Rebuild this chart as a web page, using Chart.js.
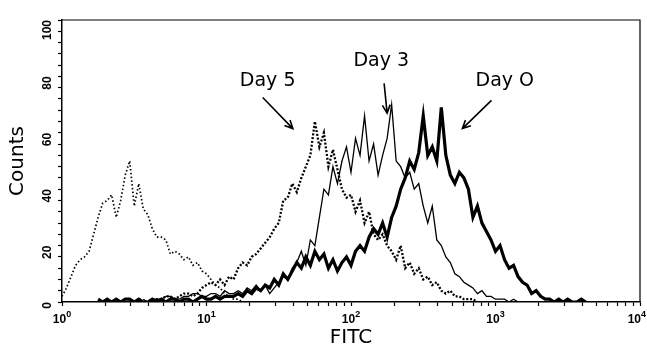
<!DOCTYPE html>
<html>
<head>
<meta charset="utf-8">
<script src="https://cdn.jsdelivr.net/npm/chart.js@4.4.1/dist/chart.umd.min.js"></script>
<style>
  html, body { margin: 0; padding: 0; background: #fff; }
  #wrap { width: 647px; height: 357px; position: relative; }
</style>
</head>
<body>
<div id="wrap"><canvas id="c" width="647" height="357"></canvas></div>
<script>
// Histogram channels: 32 channels per decade on the FITC log scale (1 .. 10^4)
const channelsPerDecade = 32;

// Counts per channel, with the first channel index of each series
const controlStart = 0;
const controlCounts = [2,5,9,13,15,16,18,24,30,35,36,38,30,36,45,50,34,42,33,31,26,23,23,22,17,18,17,15,16,13,14,11,10,8,6,5,3,2,1,1,0];

const day5Start = 20;
const day5Counts = [1,1,1,2,2,1,2,3,3,2,3,5,6,7,6,8,6,9,8,12,14,13,16,17,19,21,23,26,28,36,37,42,39,44,48,52,64,55,60,48,54,47,40,37,38,32,36,28,32,24,22,24,20,18,15,20,12,14,10,12,8,9,6,7,4,3,4,2,2,1,1,1,0];

const day3Start = 18;
const day3Counts = [1,0,1,1,1,2,2,1,1,2,2,3,3,2,2,3,3,2,4,3,3,4,3,5,4,6,4,6,3,5,7,9,8,12,14,18,13,22,20,30,40,38,48,42,50,55,46,58,52,66,50,56,45,52,58,70,50,48,44,46,40,42,34,28,34,22,20,16,14,10,9,7,6,5,3,4,2,2,1,1,1,0,1,0];

const day0Start = 8;
const day0Counts = [1,0,1,0,1,0,1,1,0,1,0,0,1,0,1,0,1,1,0,1,1,0,1,2,1,1,2,1,2,2,2,3,2,4,3,5,4,6,5,8,6,10,8,11,14,12,16,13,18,15,17,12,15,11,14,16,13,18,20,18,23,26,24,28,23,30,34,40,44,50,47,53,66,52,55,50,69,52,45,42,46,44,40,30,34,28,25,22,18,20,15,12,13,9,7,6,3,4,2,1,1,0,1,0,1,0,0,1,0];

// Axis ticks
const xMajorTicks = [1, 10, 100, 1000, 10000];
const xTickBase = '10';
const xTickExponents = ['0', '1', '2', '3', '4'];
const yTickLabels = [0, 20, 40, 60, 80, 100];

// Annotations [text, textX, textY, arrowFromX, arrowFromY, arrowToX, arrowToY] in data units
const annotations = [
  ['Day 5', 26.5, 78.5, 24.5, 72.5, 39.6, 61.5],
  ['Day 3', 162, 85.5, 169.5, 77.5, 177.8, 67],
  ['Day O', 1160, 78.5, 938, 71.5, 590, 61.5]
];

function toPoints(start, counts) {
  return counts.map((c, k) => ({ x: Math.pow(10, (start + k) / channelsPerDecade), y: c }));
}

const xAllTicks = [];
for (let d = 0; d < 4; d++) {
  for (let m = 1; m < 10; m++) xAllTicks.push(m * Math.pow(10, d));
}
xAllTicks.push(10000);

const FONT = "'DejaVu Sans', sans-serif";
const TICKFONT = "'Liberation Sans', Arial, sans-serif";

const overlay = {
  id: 'overlay',
  afterDraw(chart) {
    const ctx = chart.ctx;
    const xs = chart.scales.x, ys = chart.scales.y;
    const a = chart.chartArea;
    ctx.save();
    // frame
    ctx.strokeStyle = '#000';
    ctx.lineWidth = 1.2;
    ctx.beginPath();
    ctx.moveTo(a.left, a.top);
    ctx.lineTo(a.right, a.top);
    ctx.lineTo(a.right, a.bottom);
    ctx.stroke();
    // x tick labels with superscript exponents
    ctx.fillStyle = '#000';
    ctx.textBaseline = 'alphabetic';
    ctx.textAlign = 'left';
    xMajorTicks.forEach((v, k) => {
      const px = xs.getPixelForValue(v);
      ctx.font = "bold 12px " + TICKFONT;
      const wb = ctx.measureText(xTickBase).width;
      ctx.font = "bold 9px " + TICKFONT;
      const we = ctx.measureText(xTickExponents[k]).width;
      const x0 = Math.min(px - (wb + we) / 2, chart.width - 1 - (wb + we));
      const base = a.bottom + 21;
      ctx.font = "bold 12px " + TICKFONT;
      ctx.fillText(xTickBase, x0, base);
      ctx.font = "bold 9px " + TICKFONT;
      ctx.fillText(xTickExponents[k], x0 + wb, base - 6);
    });
    // annotations
    ctx.font = "19px " + FONT;
    ctx.textAlign = 'center';
    ctx.textBaseline = 'middle';
    annotations.forEach(an => {
      const tx = xs.getPixelForValue(an[1]), ty = ys.getPixelForValue(an[2]);
      ctx.fillText(an[0], tx, ty);
      const x1 = xs.getPixelForValue(an[3]), y1 = ys.getPixelForValue(an[4]);
      const x2 = xs.getPixelForValue(an[5]), y2 = ys.getPixelForValue(an[6]);
      ctx.lineWidth = 1.6;
      ctx.beginPath();
      ctx.moveTo(x1, y1);
      ctx.lineTo(x2, y2);
      const ang = Math.atan2(y2 - y1, x2 - x1);
      const h = 9, w = 0.45;
      ctx.moveTo(x2 - h * Math.cos(ang - w), y2 - h * Math.sin(ang - w));
      ctx.lineTo(x2, y2);
      ctx.lineTo(x2 - h * Math.cos(ang + w), y2 - h * Math.sin(ang + w));
      ctx.stroke();
    });
    ctx.restore();
  }
};

new Chart(document.getElementById('c'), {
  type: 'line',
  data: {
    datasets: [
      { label: 'Control', data: toPoints(controlStart, controlCounts), borderColor: '#000', borderWidth: 1.7, borderDash: [1.5, 2.3], tension: 0, pointRadius: 0, fill: false },
      { label: 'Day 5', data: toPoints(day5Start, day5Counts), borderColor: '#000', borderWidth: 2.3, borderDash: [2, 1.8], tension: 0, pointRadius: 0, fill: false },
      { label: 'Day 3', data: toPoints(day3Start, day3Counts), borderColor: '#000', borderWidth: 1.3, tension: 0, pointRadius: 0, fill: false },
      { label: 'Day 0', data: toPoints(day0Start, day0Counts), borderColor: '#000', borderWidth: 3.2, tension: 0, pointRadius: 0, fill: false }
    ]
  },
  options: {
    responsive: false,
    animation: false,
    devicePixelRatio: 1,
    layout: { padding: { top: 20, right: 7, left: 4, bottom: 2 } },
    plugins: { legend: { display: false }, tooltip: { enabled: false } },
    scales: {
      x: {
        type: 'logarithmic',
        min: 1, max: 10000,
        afterBuildTicks: s => { s.ticks = xAllTicks.map(v => ({ value: v, major: xMajorTicks.includes(v) })); },
        afterFit: s => { s.height = 53; },
        ticks: {
          autoSkip: false, maxRotation: 0, minRotation: 0,
          color: 'rgba(0,0,0,0)', padding: 1,
          font: { family: TICKFONT, size: 12, weight: 'bold' },
          callback: () => ''
        },
        grid: { drawOnChartArea: false, drawTicks: true, tickLength: 4, color: '#000', tickWidth: 1.2 },
        border: { display: true, color: '#000', width: 1.5 },
        title: { display: true, text: 'FITC', color: '#000', font: { family: FONT, size: 20 }, padding: { top: 0, bottom: 5 } }
      },
      y: {
        type: 'linear',
        min: 0, max: 100,
        afterFit: s => { s.width = 58; },
        ticks: {
          stepSize: 4, autoSkip: false, minRotation: 90, maxRotation: 90,
          color: '#000', padding: 10,
          font: { family: TICKFONT, size: 12, weight: 'bold' },
          callback: v => yTickLabels.includes(v) ? String(v) : ''
        },
        grid: { drawOnChartArea: false, drawTicks: true, tickLength: 4, color: '#000', tickWidth: 1.2 },
        border: { display: true, color: '#000', width: 1.5 },
        title: { display: true, text: 'Counts', color: '#000', font: { family: FONT, size: 20 }, padding: { top: 2, bottom: 0 } }
      }
    }
  },
  plugins: [overlay]
});
</script>
</body>
</html>
